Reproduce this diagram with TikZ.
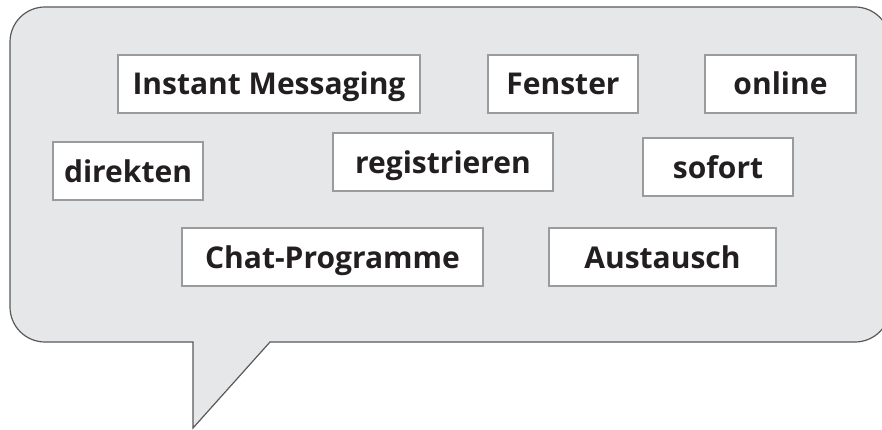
\documentclass[tikz,border=0pt]{standalone}
\usepackage{fontspec}
\setmainfont{Open Sans}
\definecolor{bubblefill}{HTML}{E6E7E8}
\definecolor{bubbleline}{HTML}{58595B}
\definecolor{boxline}{HTML}{9A9B9D}
\definecolor{ink}{HTML}{231F20}
\tikzset{
  wordbox/.style={draw=boxline, line width=1.3pt, fill=white, text=ink,
    minimum height=58pt, inner sep=0pt, text height=22pt, text depth=0pt,
    font=\fontsize{30}{34}\selectfont\bfseries},
  bubble/.style={draw=bubbleline, line width=1.2pt, fill=bubblefill}
}
\begin{document}
\begin{tikzpicture}[x=1pt,y=1pt]
\useasboundingbox (0,0) rectangle (882,429);
% speech bubble with tail
\draw[bubble] (193,1) -- (193,87) -- (45,87)
  arc[start angle=270, end angle=180, radius=35] -- (10,387)
  arc[start angle=180, end angle=90, radius=35] -- (855,422)
  arc[start angle=90, end angle=0, radius=35] -- (890,122)
  arc[start angle=0, end angle=-90, radius=35] -- (270,87) -- cycle;
% word cards
\node[wordbox, minimum width=302pt] (im) at (269,345) {Instant Messaging};
\node[wordbox, minimum width=150pt] (fenster) at (563,345) {Fenster};
\node[wordbox, minimum width=151pt] (online) at (780.5,345) {online};
\node[wordbox, minimum width=150pt] (direkten) at (128,258) {direkten};
\node[wordbox, minimum width=220pt] (registrieren) at (443,267) {registrieren};
\node[wordbox, minimum width=150pt] (sofort) at (718,262) {sofort};
\node[wordbox, minimum width=301pt] (chat) at (332.5,172) {Chat-Programme};
\node[wordbox, minimum width=227pt] (austausch) at (662.5,172) {Austausch};
\end{tikzpicture}
\end{document}
